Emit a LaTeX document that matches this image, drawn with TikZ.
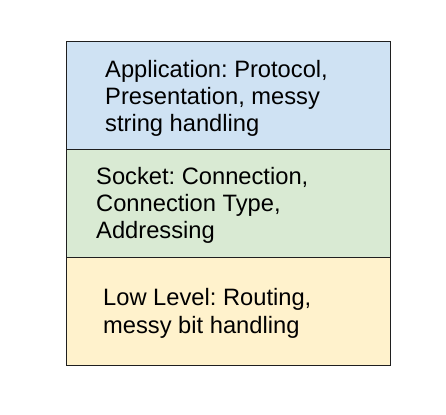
\documentclass[tikz,border=0pt]{standalone}
\usepackage{fontspec}
\setmainfont{Liberation Sans}
\frenchspacing
\definecolor{appblue}{HTML}{CFE2F3}
\definecolor{sockgreen}{HTML}{D9EAD3}
\definecolor{lowyellow}{HTML}{FFF2CC}
\definecolor{edge}{HTML}{1F1F1F}
\begin{document}
\begin{tikzpicture}[x=1pt,y=-1pt,
  layer/.style={draw=edge,line width=1pt,minimum width=324pt,minimum height=108pt,inner sep=0pt,anchor=north west},
  label/.style={anchor=west,align=left,inner sep=0pt,font=\fontsize{23.7pt}{27.3pt}\selectfont,text=black}]
\useasboundingbox (0,0) rectangle (446,414);
\node[layer,fill=appblue] (app) at (66,41) {};
\node[layer,fill=sockgreen] (sock) at (66,149) {};
\node[layer,fill=lowyellow] (low) at (66,257) {};
\node[label] (apptext) at ([xshift=39pt,yshift=-3pt]app.west) {Application: Protocol,\\Presentation, messy\\string handling};
\node[label] (socktext) at ([xshift=30pt,yshift=-2pt]sock.west) {Socket: Connection,\\Connection Type,\\Addressing};
\node[label] (lowtext) at ([xshift=37pt,yshift=-2pt]low.west) {Low Level: Routing,\\messy bit handling};
\end{tikzpicture}
\end{document}
